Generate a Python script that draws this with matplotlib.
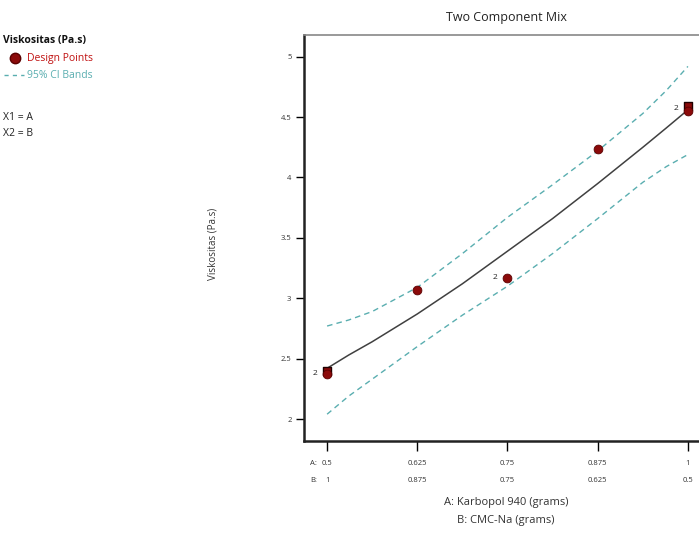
import matplotlib
matplotlib.use("Agg")
import matplotlib.pyplot as plt
from matplotlib.transforms import blended_transform_factory
from matplotlib.lines import Line2D

plt.rcParams['font.family'] = ['Open Sans', 'DejaVu Sans']

# ---- data ----
a_tick = [0.5, 0.625, 0.75, 0.875, 1.0]
a_tick_labels = ["0.5", "0.625", "0.75", "0.875", "1"]
b_tick_labels = ["1", "0.875", "0.75", "0.625", "0.5"]
y_ticks = [2, 2.5, 3, 3.5, 4, 4.5, 5]
y_tick_labels = ["2", "2.5", "3", "3.5", "4", "4.5", "5"]

curve_a = [0.5, 0.53, 0.5625, 0.625, 0.6875, 0.75, 0.8125, 0.875, 0.9375, 0.97, 1.0]
curve_y = [2.42, 2.53, 2.64, 2.87, 3.12, 3.39, 3.66, 3.95, 4.25, 4.41, 4.56]
upper_y = [2.77, 2.82, 2.89, 3.09, 3.37, 3.67, 3.94, 4.22, 4.53, 4.72, 4.92]
lower_y = [2.04, 2.19, 2.33, 2.60, 2.86, 3.10, 3.37, 3.66, 3.96, 4.09, 4.19]

pts_a = [0.5, 0.625, 0.75, 0.875, 1.0]
pts_y = [2.37, 3.07, 3.17, 4.24, 4.55]
sq_a = [0.5, 1.0]
sq_y = [2.40, 4.59]
rep_a = [0.5, 0.75, 1.0]
rep_y = [2.38, 3.17, 4.57]
rep_lbl = ["2", "2", "2"]

teal = "#5aaeb0"
dark_red = "#8b0a0a"

fig = plt.figure(figsize=(6.99, 5.33), dpi=100)
ax = fig.add_axes([304/699, 1-441/533, 407/699, 406/533])
ax.set_xlim(0.468, 1.032)
ax.set_ylim(1.818, 5.18)

ax.plot(curve_a, curve_y, color="#404040", lw=1.1, zorder=3)
ax.plot(curve_a, upper_y, color=teal, lw=1.0, ls=(0, (4, 3)), zorder=3)
ax.plot(curve_a, lower_y, color=teal, lw=1.0, ls=(0, (4, 3)), zorder=3)

ax.scatter(sq_a, sq_y, marker="s", s=40, color=dark_red, edgecolors="#200000", linewidths=1.0, zorder=4)
ax.scatter(pts_a, pts_y, marker="o", s=40, color=dark_red, edgecolors="#5a0000", linewidths=0.6, zorder=5)
for xa, ya, lb in zip(rep_a, rep_y, rep_lbl):
    ax.annotate(lb, (xa, ya), xytext=(-7, 0), textcoords="offset points",
                ha="right", va="center", fontsize=6, color="#222222")

ax.spines["right"].set_visible(False)
ax.spines["top"].set_color("#888888")
ax.spines["top"].set_linewidth(1.2)
ax.spines["left"].set_linewidth(1.8)
ax.spines["bottom"].set_linewidth(1.8)
ax.spines["left"].set_color("#222222")
ax.spines["bottom"].set_color("#222222")

ax.set_yticks(y_ticks)
ax.set_yticklabels(y_tick_labels, fontsize=5.5, color="#333333")
ax.tick_params(axis="y", direction="out", length=6, width=1.0, pad=3)
ax.set_xticks(a_tick)
ax.set_xticklabels([""] * len(a_tick))
ax.tick_params(axis="x", direction="out", length=7, width=1.0)

tr = blended_transform_factory(ax.transData, ax.transAxes)
row_a = -0.055
row_b = -0.098
for xa, la, lb in zip(a_tick, a_tick_labels, b_tick_labels):
    ax.text(xa, row_a, la, transform=tr, ha="center", va="center", fontsize=5.5, color="#333333")
    ax.text(xa, row_b, lb, transform=tr, ha="center", va="center", fontsize=5.5, color="#333333")
ax.text(0.4865, row_a, "A:", transform=tr, ha="right", va="center", fontsize=5.5, color="#333333")
ax.text(0.4865, row_b, "B:", transform=tr, ha="right", va="center", fontsize=5.5, color="#333333")

fig.text(506/699, 1-503/533, "A: Karbopol 940 (grams)", ha="center", va="center", fontsize=8, color="#333333")
fig.text(506/699, 1-521/533, "B: CMC-Na (grams)", ha="center", va="center", fontsize=8, color="#333333")
fig.text(213/699, 1-244/533, "Viskositas (Pa.s)", ha="center", va="center", rotation=90, fontsize=7, color="#333333")
fig.text(506/699, 1-17/533, "Two Component Mix", ha="center", va="center", fontsize=9, color="#222222")

# legend block
fig.text(3/699, 1-40/533, "Viskositas (Pa.s)", ha="left", va="center", fontsize=7.5, fontweight="bold", color="#111111")
fig.add_artist(Line2D([15/699], [1-58/533], marker="o", markersize=7.5, color=dark_red,
                      markeredgecolor="#5a0000", transform=fig.transFigure))
fig.text(27/699, 1-58/533, "Design Points", ha="left", va="center", fontsize=7.5, color="#c01010")
fig.add_artist(Line2D([4/699, 24/699], [1-75/533, 1-75/533], color=teal, lw=1.0, ls=(0, (3, 3)),
                      transform=fig.transFigure))
fig.text(27/699, 1-75/533, "95% CI Bands", ha="left", va="center", fontsize=7.5, color=teal)
fig.text(3/699, 1-117/533, "X1 = A", ha="left", va="center", fontsize=7.5, color="#222222")
fig.text(3/699, 1-134/533, "X2 = B", ha="left", va="center", fontsize=7.5, color="#222222")

fig.savefig("out.png", dpi=100)
